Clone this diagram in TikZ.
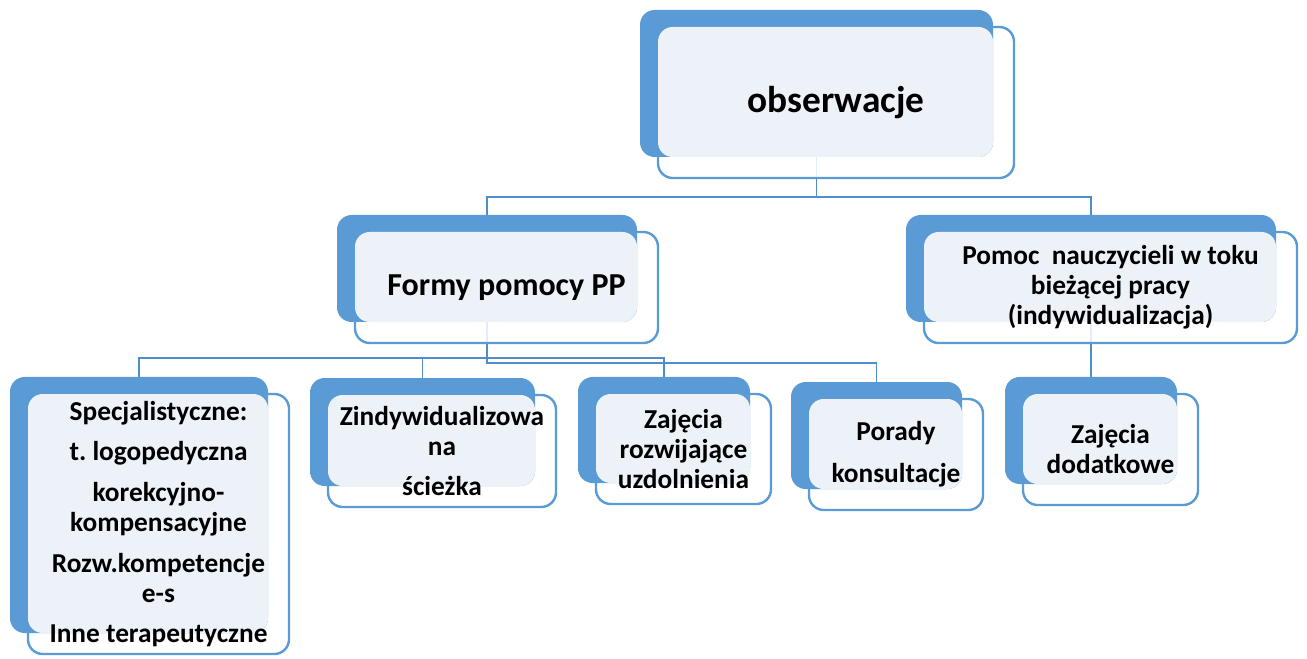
\documentclass[tikz,border=0pt]{standalone}
\usepackage{fontspec}
\setmainfont{Carlito}
\definecolor{tabblue}{RGB}{91, 155, 213}
\definecolor{tintblue}{RGB}{237, 242, 249}
\definecolor{linkblue}{RGB}{79, 140, 204}
\usepackage{tikz}

\pgfdeclarelayer{bg}
\pgfsetlayers{bg,main}

\tikzset{
  tab/.style={fill=tabblue, rounded corners=11pt, inner sep=0pt, outer sep=0pt},
  card/.style={draw=tabblue, line width=1.8pt, fill=white, fill opacity=0.85, rounded corners=11pt},
  tint/.style={fill=tintblue, rounded corners=11pt},
  lbl/.style={font=\fontsize{20.5}{22.5}\selectfont\bfseries\frenchspacing, align=center, inner sep=0pt},
  link/.style={draw=linkblue, line width=1.4pt}
}

% blue tab from (#2,#3) to (#4,#5), card shifted down right, text on the card
\newcommand{\ppcard}[6]{%
  \draw[card] (#2+18,#3+17) rectangle (#4+21,#5+21);
  \node[tab, minimum width={(#4-#2)*0.75pt}, minimum height={(#5-#3)*0.75pt}] (#1-tab) at ({(#2+#4)/2},{(#3+#5)/2}) {};
  \fill[tint] (#2+18,#3+17) rectangle (#4,#5);
  \node[lbl] (#1) at ({(#2+#4)/2+19.5},{(#3+#5)/2+19}) {#6};
}

\begin{document}
\begin{tikzpicture}[x=0.75pt, y=-0.75pt]
  \useasboundingbox (0,0) rectangle (1307,659);

  % Top level
  \ppcard{obs}{640}{10}{993}{157}{\fontsize{28}{32}\selectfont obserwacje}

  % Second level
  \ppcard{frm}{337}{215}{637}{322}{\fontsize{24}{28}\selectfont Formy pomocy PP}
  \ppcard{pom}{906}{215}{1276}{322}{Pomoc\ \ nauczycieli w toku\\bieżącej pracy\\(indywidualizacja)}

  % Third level
  \ppcard{spe}{10}{377}{268}{633}{Specjalistyczne:\\[8pt] t. logopedyczna\\[8pt] korekcyjno-\\kompensacyjne\\[8pt] Rozw.kompetencje\\e-s\\[8pt] Inne terapeutyczne}
  \ppcard{zin}{310}{378}{535}{486}{Zindywidualizowa\\na\\[8pt] ścieżka}
  \ppcard{zaj}{578}{377}{750}{483}{Zajęcia\\rozwijające\\uzdolnienia}
  \ppcard{por}{791}{382}{962}{489}{Porady\\[9pt] konsultacje}
  \ppcard{dod}{1005}{377}{1177}{484}{Zajęcia\\dodatkowe}

  % Connectors
  \coordinate (bus1) at (0,197);
  \coordinate (bus2) at (0,358);
  \coordinate (bus3) at (0,363);
  \begin{pgfonlayer}{bg}
    \draw[link] (obs-tab.south) -- (obs-tab.south |- bus1) -| (frm-tab.north);
    \draw[link] (obs-tab.south |- bus1) -| (pom-tab.north);
    \draw[link] (frm-tab.south) -- (frm-tab.south |- bus3) -| (por-tab.north);
    \draw[link] (spe-tab.north) |- (zaj-tab.north |- bus2) -- (zaj-tab.north);
    \draw[link] (zin-tab.north) -- (zin-tab.north |- bus2);
    \draw[link] (pom-tab.south) -- (dod-tab.north);
  \end{pgfonlayer}
\end{tikzpicture}
\end{document}
